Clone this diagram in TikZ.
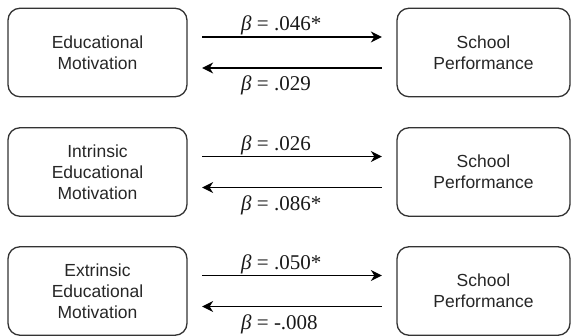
\documentclass[tikz,border=0pt]{standalone}
\usepackage{fontspec}
\setmainfont{Liberation Serif}
\setsansfont{Liberation Sans}
\usetikzlibrary{arrows.meta}
\begin{document}
\begin{tikzpicture}[x=1pt,y=-1pt,
  box/.style={draw=black!80, line width=1.3pt, rounded corners=12pt, align=center, inner sep=0pt, minimum height=88.5pt, font=\sffamily\fontsize{17.5}{21}\selectfont, text=black!85},
  lbox/.style={box, minimum width=179pt},
  rbox/.style={box, minimum width=173pt},
  arr/.style={line width=1.3pt, -{Stealth[length=11pt,width=11pt,inset=3.5pt]}},
  lab/.style={anchor=base west, inner sep=0pt, font=\fontsize{21}{24}\selectfont, text=black!90}
]
\useasboundingbox (0,0) rectangle (571,336);
% row 1
\node[lbox] (L1) at (97.5,52.5) {Educational\\Motivation};
\node[rbox] (R1) at (483.5,52.5) {School\\Performance};
\draw[arr] ([xshift=14.5pt,yshift=15.5pt]L1.east) -- ([xshift=-14.5pt,yshift=15.5pt]R1.west);
\draw[arr] ([xshift=-14.5pt,yshift=-15.5pt]R1.west) -- ([xshift=14.5pt,yshift=-15.5pt]L1.east);
\node[lab] (a1) at (241,31) {\textit{β} = .046*};
\node[lab] (b1) at (241,91) {\textit{β} = .029};
% row 2
\node[lbox] (L2) at (97.5,172) {Intrinsic\\Educational\\Motivation};
\node[rbox] (R2) at (483.5,172) {School\\Performance};
\draw[arr] ([xshift=14.5pt,yshift=15.5pt]L2.east) -- ([xshift=-14.5pt,yshift=15.5pt]R2.west);
\draw[arr] ([xshift=-14.5pt,yshift=-15.5pt]R2.west) -- ([xshift=14.5pt,yshift=-15.5pt]L2.east);
\node[lab] (a2) at (241,150.5) {\textit{β} = .026};
\node[lab] (b2) at (241,210.5) {\textit{β} = .086*};
% row 3
\node[lbox] (L3) at (97.5,291) {Extrinsic\\Educational\\Motivation};
\node[rbox] (R3) at (483.5,291) {School\\Performance};
\draw[arr] ([xshift=14.5pt,yshift=15.5pt]L3.east) -- ([xshift=-14.5pt,yshift=15.5pt]R3.west);
\draw[arr] ([xshift=-14.5pt,yshift=-15.5pt]R3.west) -- ([xshift=14.5pt,yshift=-15.5pt]L3.east);
\node[lab] (a3) at (241,270) {\textit{β} = .050*};
\node[lab] (b3) at (241,330) {\textit{β} = -.008};
\end{tikzpicture}
\end{document}
